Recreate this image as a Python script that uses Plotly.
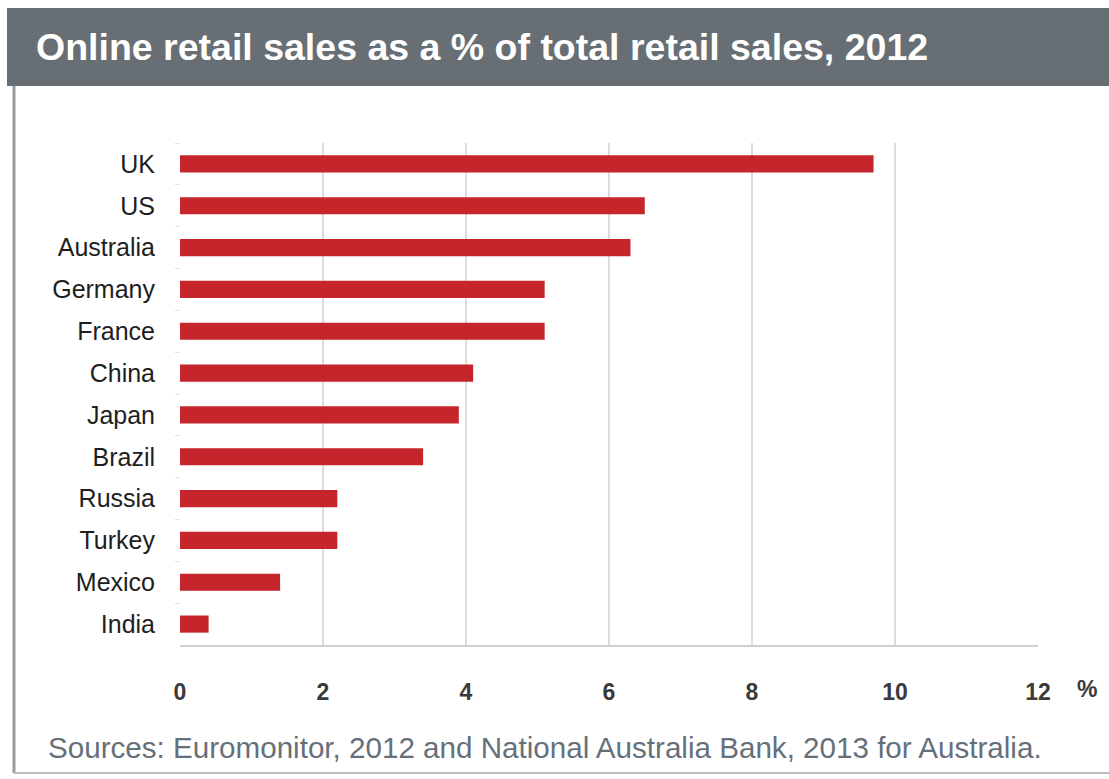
import plotly.graph_objects as go

# Online retail share of total retail sales, 2012 (%)
countries = ["UK", "US", "Australia", "Germany", "France", "China",
             "Japan", "Brazil", "Russia", "Turkey", "Mexico", "India"]
shares = [9.7, 6.5, 6.3, 5.1, 5.1, 4.1, 3.9, 3.4, 2.2, 2.2, 1.4, 0.4]
x_ticks = [0, 2, 4, 6, 8, 10, 12]

title_text = "Online retail sales as a % of total retail sales, 2012"
source_text = "Sources: Euromonitor, 2012 and National Australia Bank, 2013 for Australia."

W, H = 1109, 779
L, R, T, B = 180, 71, 143, 134
plot_w = W - L - R
plot_h = H - T - B

FONT = "Liberation Sans, Arial, sans-serif"


def px_x(p):
    return (p - L) / plot_w


def px_y(p):
    return (H - B - p) / plot_h


fig = go.Figure(go.Bar(
    x=shares,
    y=countries,
    orientation="h",
    marker=dict(color="#c4262b", line=dict(width=0)),
    width=0.41,
))

fig.update_layout(
    width=W, height=H,
    margin=dict(l=L, r=R, t=T, b=B),
    paper_bgcolor="white",
    plot_bgcolor="white",
    showlegend=False,
    font=dict(family=FONT, color="#333333"),
)

fig.update_xaxes(
    range=[0, 12],
    tickvals=x_ticks,
    ticktext=["<b>%d</b>" % v for v in x_ticks],
    showgrid=True, gridcolor="#dcdcdc", gridwidth=2,
    zeroline=False,
    showline=True, linecolor="#d0d0d0", linewidth=2,
    ticks="", ticklabelstandoff=25,
    tickfont=dict(size=23, color="#3a3a3a", family=FONT),
    fixedrange=True,
)

fig.update_yaxes(
    categoryorder="array",
    categoryarray=countries,
    autorange="reversed",
    tickson="boundaries",
    ticks="outside", ticklen=4, tickcolor="#dcdcdc",
    showgrid=False, showline=False,
    ticklabelstandoff=24,
    tickfont=dict(size=25, color="#1e1e1e", family=FONT),
    fixedrange=True,
)

shapes = [
    # header band
    dict(type="rect", xref="paper", yref="paper",
         x0=px_x(7), x1=px_x(W), y0=px_y(86), y1=px_y(8),
         fillcolor="#686f74", line=dict(width=0), layer="below"),
    # frame: left edge and bottom edge
    dict(type="line", xref="paper", yref="paper",
         x0=px_x(14), x1=px_x(14), y0=px_y(86), y1=px_y(773),
         line=dict(color="#9a9a9a", width=3)),
    dict(type="line", xref="paper", yref="paper",
         x0=px_x(14), x1=px_x(W), y0=px_y(773), y1=px_y(773),
         line=dict(color="#bdbdbd", width=2)),
]

annotations = [
    dict(text="<b>" + title_text + "</b>", xref="paper", yref="paper",
         x=px_x(34), y=px_y(47), xanchor="left", yanchor="middle",
         showarrow=False,
         font=dict(size=37.5, color="white", family=FONT)),
    dict(text="<b>%</b>", xref="paper", yref="paper",
         x=px_x(1087), y=px_y(689), xanchor="center", yanchor="middle",
         showarrow=False,
         font=dict(size=23, color="#3a3a3a", family=FONT)),
    dict(text=source_text, xref="paper", yref="paper",
         x=px_x(46), y=px_y(747), xanchor="left", yanchor="middle",
         showarrow=False,
         font=dict(size=29.6, color="#66707a", family=FONT)),
]

fig.update_layout(shapes=shapes, annotations=annotations)

fig.write_html("out.html")
